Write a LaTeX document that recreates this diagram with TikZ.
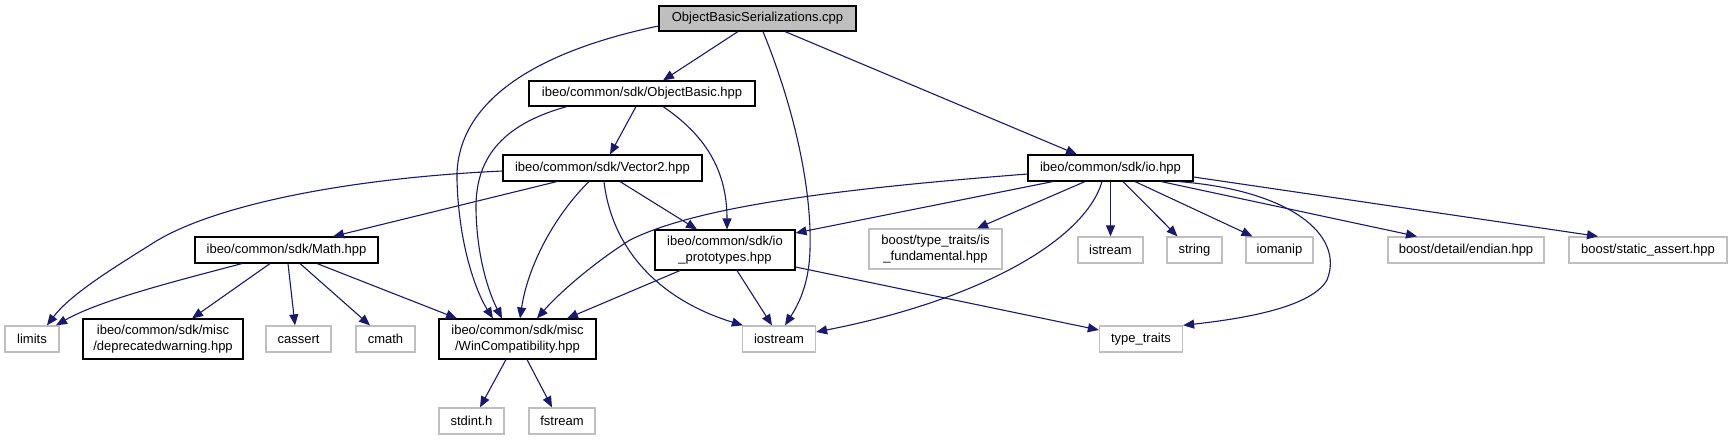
\documentclass[tikz,border=0pt]{standalone}
\usepackage{fontspec}
\setmainfont{Liberation Sans}
\usetikzlibrary{arrows.meta}
\definecolor{edgec}{HTML}{191970}
\definecolor{gr}{HTML}{BFBFBF}
\begin{document}
\begin{tikzpicture}[x=1pt,y=-1pt,
  nd/.style={rectangle, draw=black, line width=1.1pt, fill=white, inner sep=0pt, minimum height=26pt, align=center, font=\fontsize{13}{15.3}\selectfont},
  ext/.style={nd, draw=gr, line width=1.3pt},
  tall/.style={minimum height=40pt},
  dep/.style={draw=edgec, line width=1.1pt, -{Triangle[length=11pt,width=9pt]}},
]
\useasboundingbox[fill=white] (0,0) rectangle (1733,440);
\node[nd, fill=gr, minimum width=197pt, minimum height=25pt] (obs) at (757.5,18.5) {ObjectBasicSerializations.cpp};
\node[nd, minimum width=226pt, minimum height=25pt] (ob) at (642,93.5) {ibeo/common/sdk/ObjectBasic.hpp};
\node[nd, minimum width=199pt] (v2) at (602.5,168) {ibeo/common/sdk/Vector2.hpp};
\node[nd, minimum width=165pt] (io) at (1110.5,168) {ibeo/common/sdk/io.hpp};
\node[nd, minimum width=183pt] (math) at (286.5,250) {ibeo/common/sdk/Math.hpp};
\node[nd, tall, minimum width=140pt] (iop) at (725,250) {ibeo/common/sdk/io\\\_prototypes.hpp};
\node[ext, tall, minimum width=133pt] (isf) at (935.5,249) {boost/type\_traits/is\\\_fundamental.hpp};
\node[ext, minimum width=65pt] (istream) at (1110.5,250) {istream};
\node[ext, minimum width=55pt] (string) at (1194.5,250) {string};
\node[ext, minimum width=67pt] (iomanip) at (1279.5,250) {iomanip};
\node[ext, minimum width=156pt] (endian) at (1466,250) {boost/detail/endian.hpp};
\node[ext, minimum width=158pt] (sa) at (1648,250) {boost/static\_assert.hpp};
\node[ext, minimum width=54pt] (limits) at (32,339) {limits};
\node[nd, tall, minimum width=160pt] (dw) at (163,339) {ibeo/common/sdk/misc\\/deprecatedwarning.hpp};
\node[ext, minimum width=65pt] (cassert) at (298.5,339) {cassert};
\node[ext, minimum width=59pt] (cmath) at (385.5,339) {cmath};
\node[nd, tall, minimum width=157pt] (wc) at (517.5,339) {ibeo/common/sdk/misc\\/WinCompatibility.hpp};
\node[ext, minimum width=73pt] (ios) at (779,339) {iostream};
\node[ext, minimum width=83pt] (tt) at (1141,339) {type\_traits};
\node[ext, minimum width=65pt] (stdint) at (471.5,421) {stdint.h};
\node[ext, minimum width=66pt] (fstream) at (562,421) {fstream};
% ObjectBasicSerializations.cpp
\draw[dep] ([xshift=-19.5pt]obs.south) -- ([xshift=21pt]ob.north);
\draw[dep] ([yshift=-7.5pt]obs.west) .. controls (520,55) and (455,110) .. (457,180) .. controls (459,250) and (478,295) .. ([xshift=-24.5pt]wc.north);
\draw[dep] ([xshift=5.5pt]obs.south) .. controls (795,110) and (812,190) .. (810,250) .. controls (809,285) and (798,305) .. ([xshift=6pt]ios.north);
\draw[dep] ([xshift=27.5pt]obs.south) -- ([xshift=-33.5pt]io.north);
% ObjectBasic.hpp
\draw[dep] ([xshift=-6pt]ob.south) -- ([xshift=7.5pt]v2.north);
\draw[dep] ([xshift=-75pt]ob.south) .. controls (500,125) and (475,160) .. (476,210) .. controls (477,260) and (490,295) .. ([xshift=-15.5pt]wc.north);
\draw[dep] ([xshift=21pt]ob.south) .. controls (705,135) and (727,170) .. ([xshift=2pt]iop.north);
% Vector2.hpp
\draw[dep] ([yshift=-3pt]v2.west) .. controls (350,178) and (210,205) .. (150,245) .. controls (110,270) and (70,295) .. ([xshift=15pt]limits.north);
\draw[dep] ([xshift=-45.5pt]v2.south) -- ([xshift=46.5pt]math.north);
\draw[dep] ([xshift=-13.5pt]v2.south) .. controls (555,215) and (528,265) .. ([xshift=2.5pt]wc.north);
\draw[dep] ([xshift=1.5pt]v2.south) .. controls (612,250) and (660,300) .. ([xshift=1pt]ios.north west);
\draw[dep] ([xshift=17.5pt]v2.south) -- ([xshift=-28pt]iop.north);
% io.hpp
\draw[dep] ([yshift=-6pt]io.west) .. controls (850,188) and (700,205) .. (630,240) .. controls (595,262) and (560,292) .. ([xshift=19.5pt]wc.north);
\draw[dep] ([xshift=-57.5pt]io.south) -- ([yshift=17pt]iop.east);
\draw[dep] ([xshift=-25.5pt]io.south) -- ([xshift=41.5pt]isf.north);
\draw[dep] ([xshift=-8.5pt]io.south) .. controls (1085,240) and (980,300) .. ([yshift=7pt]ios.east);
\draw[dep] (io.south) -- (istream.north);
\draw[dep] ([xshift=12.5pt]io.south) -- ([xshift=-17pt]string.north);
\draw[dep] ([xshift=24.5pt]io.south) -- ([xshift=-27pt]iomanip.north);
\draw[dep] ([xshift=67.5pt]io.south) .. controls (1290,190) and (1345,235) .. (1327,280) .. controls (1310,310) and (1230,320) .. (tt.north east);
\draw[dep] ([xshift=50.5pt]io.south) -- ([xshift=-49pt]endian.north);
\draw[dep] ([yshift=-9pt]io.east) -- ([xshift=-50pt]sa.north);
% io_prototypes.hpp
\draw[dep] ([xshift=-45pt]iop.south) -- ([xshift=49.5pt]wc.north);
\draw[dep] ([xshift=12pt]iop.south) -- ([xshift=-7pt]ios.north);
\draw[dep] ([yshift=-17pt]iop.east) -- ([yshift=9pt]tt.west);
% Math.hpp
\draw[dep] ([xshift=-44.5pt]math.south) .. controls (180,280) and (100,300) .. ([xshift=24pt]limits.north);
\draw[dep] ([xshift=-16.5pt]math.south) -- ([xshift=29pt]dw.north);
\draw[dep] ([xshift=1.5pt]math.south) -- ([xshift=-3.5pt]cassert.north);
\draw[dep] ([xshift=13.5pt]math.south) -- ([xshift=-15.5pt]cmath.north);
\draw[dep] ([xshift=30.5pt]math.south) -- ([xshift=-60.5pt]wc.north);
% WinCompatibility.hpp
\draw[dep] ([xshift=-11.5pt]wc.south) -- ([xshift=8.5pt]stdint.north);
\draw[dep] ([xshift=9.5pt]wc.south) -- ([xshift=-10pt]fstream.north);
\end{tikzpicture}
\end{document}
